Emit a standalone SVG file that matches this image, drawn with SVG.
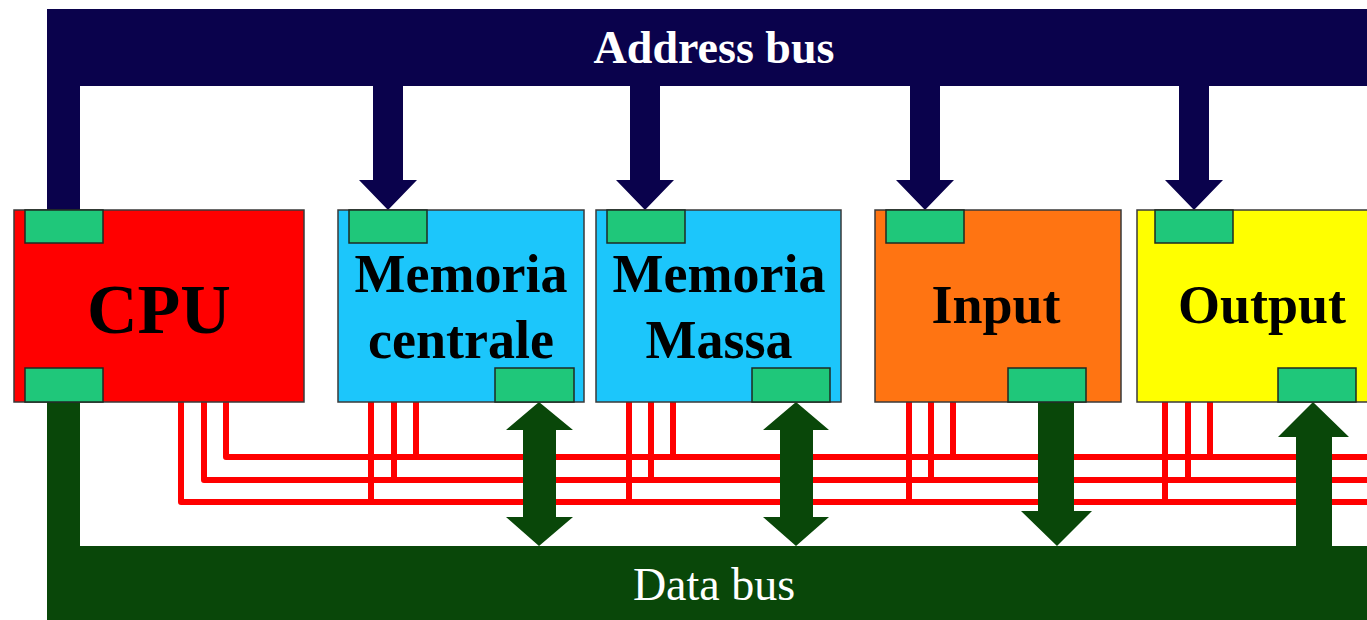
<svg xmlns="http://www.w3.org/2000/svg" width="1367" height="620" viewBox="0 0 1367 620">
  <style>
    .addr { fill: #0a024c; }
    .data { fill: #094709; }
    .box { stroke: #3a3a3a; stroke-width: 1.5; }
    .port { fill: #1fc77a; stroke: #1e2a22; stroke-width: 1.5; }
    .ctl { fill: none; stroke: #ff0000; stroke-width: 6; stroke-linejoin: round; }
    .lbl { font-family: "Liberation Serif", "Times New Roman", serif; font-weight: bold; fill: #000; text-anchor: middle; }
    .bus { font-family: "Liberation Serif", "Times New Roman", serif; fill: #fff; text-anchor: middle; }
  </style>

  <rect width="1367" height="620" fill="#ffffff"/>

  <!-- Connectors: address bus, control lines, data bus -->
  <g id="connectors">
    <!-- address bus bar and branches -->
    <g id="address-bus">
      <rect class="addr" x="47" y="9" width="1320" height="77"/>
      <rect class="addr" x="47" y="86" width="33" height="124"/>
      <polygon class="addr" points="373,86 403,86 403,180 417,180 388,210 359,180 373,180"/>
      <polygon class="addr" points="630,86 660,86 660,180 674,180 645,210 616,180 630,180"/>
      <polygon class="addr" points="910,86 940,86 940,180 954,180 925,210 896,180 910,180"/>
      <polygon class="addr" points="1179,86 1209,86 1209,180 1223,180 1194,210 1165,180 1179,180"/>
      <text class="bus" x="714" y="63" font-size="46" font-weight="bold">Address bus</text>
    </g>

    <!-- control lines -->
    <g id="control-bus">
      <polyline class="ctl" points="226,402 226,457 1367,457"/>
      <polyline class="ctl" points="204,402 204,480 1367,480"/>
      <polyline class="ctl" points="181,402 181,502 1367,502"/>
      <polyline class="ctl" points="371,402 371,502"/>
      <polyline class="ctl" points="394,402 394,480"/>
      <polyline class="ctl" points="416,402 416,457"/>
      <polyline class="ctl" points="629,402 629,502"/>
      <polyline class="ctl" points="651,402 651,480"/>
      <polyline class="ctl" points="673,402 673,457"/>
      <polyline class="ctl" points="909,402 909,502"/>
      <polyline class="ctl" points="931,402 931,480"/>
      <polyline class="ctl" points="953,402 953,457"/>
      <polyline class="ctl" points="1165,402 1165,502"/>
      <polyline class="ctl" points="1188,402 1188,480"/>
      <polyline class="ctl" points="1210,402 1210,457"/>
    </g>

    <!-- data bus bar and branches -->
    <g id="data-bus">
      <rect class="data" x="47" y="546" width="1320" height="74"/>
      <rect class="data" x="47" y="402" width="33" height="144"/>
      <polygon class="data" points="539,402 573,430 556,430 556,517 573,517 539,546 506,517 523,517 523,430 506,430"/>
      <polygon class="data" points="796,402 829,430 813,430 813,517 829,517 796,546 763,517 780,517 780,430 763,430"/>
      <polygon class="data" points="1038,402 1074,402 1074,511 1092,511 1057,546 1021,511 1038,511"/>
      <polygon class="data" points="1313,402 1349,437 1332,437 1332,546 1296,546 1296,437 1278,437"/>
      <text class="bus" x="714" y="600" font-size="46">Data bus</text>
    </g>
  </g>

  <!-- CPU -->
  <g id="cpu">
    <rect class="box" x="14" y="210" width="290" height="192" fill="#ff0000"/>
    <rect class="port" x="25" y="210" width="78" height="33"/>
    <rect class="port" x="25" y="368" width="78" height="34"/>
    <text class="lbl" x="159" y="333" font-size="70">CPU</text>
  </g>

  <!-- Main memory -->
  <g id="memoria-centrale">
    <rect class="box" x="338" y="210" width="246" height="192" fill="#1cc6fb"/>
    <rect class="port" x="349" y="210" width="78" height="33"/>
    <rect class="port" x="495" y="368" width="79" height="34"/>
    <text class="lbl" x="461" y="292" font-size="54">Memoria</text>
    <text class="lbl" x="461" y="358" font-size="54">centrale</text>
  </g>

  <!-- Mass storage -->
  <g id="memoria-massa">
    <rect class="box" x="596" y="210" width="245" height="192" fill="#1cc6fb"/>
    <rect class="port" x="607" y="210" width="78" height="33"/>
    <rect class="port" x="752" y="368" width="78" height="34"/>
    <text class="lbl" x="719" y="292" font-size="54">Memoria</text>
    <text class="lbl" x="719" y="358" font-size="54">Massa</text>
  </g>

  <!-- Input -->
  <g id="input">
    <rect class="box" x="875" y="210" width="246" height="192" fill="#ff7412"/>
    <rect class="port" x="886" y="210" width="78" height="33"/>
    <rect class="port" x="1008" y="368" width="78" height="34"/>
    <text class="lbl" x="996" y="323" font-size="54">Input</text>
  </g>

  <!-- Output -->
  <g id="output">
    <rect class="box" x="1137" y="210" width="240" height="192" fill="#ffff00"/>
    <rect class="port" x="1155" y="210" width="78" height="33"/>
    <rect class="port" x="1278" y="368" width="78" height="34"/>
    <text class="lbl" x="1262" y="323" font-size="54">Output</text>
  </g>
</svg>
